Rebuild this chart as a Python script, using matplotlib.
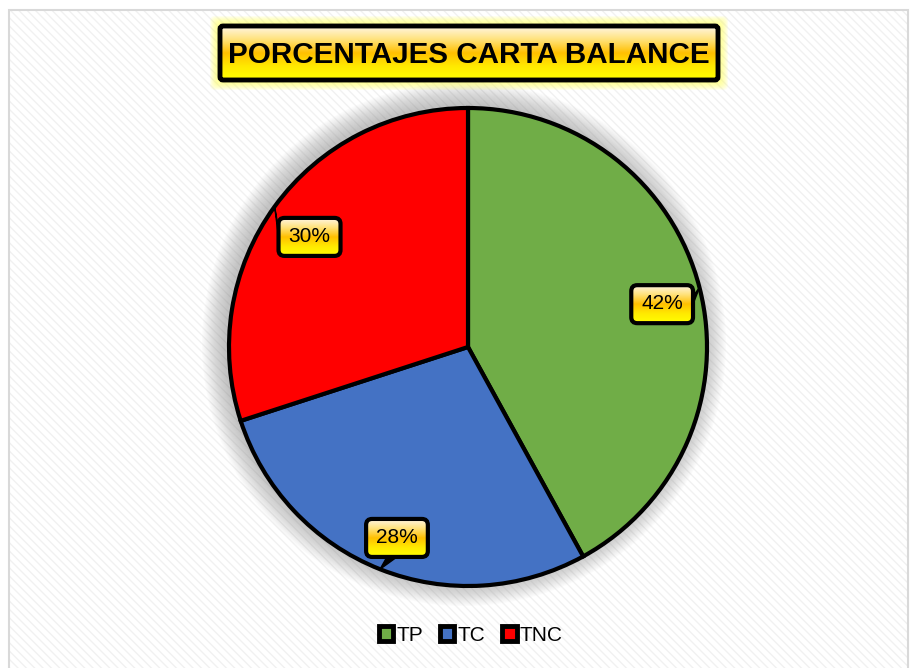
import matplotlib
matplotlib.use("Agg")
import matplotlib.pyplot as plt
import numpy as np
from matplotlib.patches import FancyBboxPatch, Rectangle, Circle, Patch, Polygon
from matplotlib.colors import LinearSegmentedColormap

# data
categories = ["TP", "TC", "TNC"]
values = [42, 28, 30]
slice_colors = ["#70AD47", "#4472C4", "#FF0000"]
title_text = "PORCENTAJES CARTA BALANCE"

W, H = 914, 668
fig = plt.figure(figsize=(W / 100, H / 100), dpi=100)
ax = fig.add_axes([0, 0, 1, 1])
ax.set_xlim(0, W)
ax.set_ylim(0, H)
ax.set_aspect("equal")
ax.axis("off")

# background: faint diagonal texture + light frame
ax.add_patch(Rectangle((9, -5), 899, 663, facecolor="white", edgecolor="#f1f1f1",
                       hatch="\\\\\\\\", linewidth=0, zorder=0))
ax.add_patch(Rectangle((9, -5), 899, 663, facecolor="none", edgecolor="#d9d9d9",
                       linewidth=1.5, zorder=0.5))

gold = LinearSegmentedColormap.from_list(
    "gold", ["#FFFF00", "#FFEA00", "#FFC000", "#FFE27A", "#FFF6E6"])


def gradient_box(x0, y0, x1, y1, pad, lw, z, rs=6):
    box = FancyBboxPatch((x0, y0), x1 - x0, y1 - y0,
                         boxstyle=f"round,pad={pad},rounding_size={rs}",
                         facecolor="none", edgecolor="black", linewidth=lw, zorder=z + 0.2)
    ax.add_patch(box)
    grad = np.linspace(0, 1, 256).reshape(-1, 1)
    im = ax.imshow(grad, cmap=gold, origin="lower", aspect="auto",
                   extent=(x0 - pad, x1 + pad, y0 - pad, y1 + pad), zorder=z)
    im.set_clip_path(box)
    return box


# pie shadow halo
cx, cy, r = 468, 321, 239
for k in range(1, 24):
    ax.add_patch(Circle((cx - 4, cy + 3), r + k, facecolor="#909090",
                        edgecolor="none", alpha=0.028, zorder=1))

wedges, texts, autotexts = ax.pie(
    values, colors=slice_colors, startangle=90, counterclock=False,
    center=(cx, cy), radius=r, autopct="%1.0f%%", pctdistance=0.83,
    wedgeprops=dict(edgecolor="black", linewidth=3, zorder=2),
    textprops=dict(fontsize=15, family="Liberation Sans", color="black", zorder=6))
ax.set_xlim(0, W)
ax.set_ylim(0, H)

# label boxes with small callout tails pointing to the pie edge
for t in autotexts:
    px, py = t.get_position()
    t.set_position((px + 2, py - 6))
fig.canvas.draw()
inv = ax.transData.inverted()
for w, t in zip(wedges, autotexts):
    bb = t.get_window_extent()
    (x0, y0), (x1, y1) = inv.transform([[bb.x0, bb.y0], [bb.x1, bb.y1]])
    x0, x1, y0, y1 = x0 - 5, x1 + 5, y0 - 5, y1 + 4
    mid = np.deg2rad((w.theta1 + w.theta2) / 2)
    ux, uy = np.cos(mid), np.sin(mid)
    tip = (cx + r * ux, cy + r * uy)
    bx, by = (x0 + x1) / 2, (y0 + y1) / 2
    # base of tail on box side facing the edge
    if abs(ux) > abs(uy):
        sx = x1 + 5 if ux > 0 else x0 - 5
        base = [(sx, by + 8), (sx, by)]
    else:
        sy = y1 + 5 if uy > 0 else y0 - 5
        base = [(bx - 10, sy), (bx, sy)]
    ax.add_patch(Polygon([base[0], tip, base[1]], closed=True, facecolor="black",
                         edgecolor="black", linewidth=1, zorder=3.9))
    gradient_box(x0, y0, x1, y1, 5, 3, 4)

# title with yellow glow
tx0, ty0, tx1, ty1 = 220, 588, 718, 642
for k in range(10, 0, -1):
    ax.add_patch(FancyBboxPatch((tx0 - k, ty0 - k), tx1 - tx0 + 2 * k, ty1 - ty0 + 2 * k,
                                boxstyle="round,pad=0,rounding_size=5",
                                facecolor="#FFFF70", edgecolor="none",
                                alpha=0.13, zorder=3))
gradient_box(tx0, ty0, tx1, ty1, 0, 3.5, 4, rs=3)
title = ax.text((tx0 + tx1) / 2, 613, title_text, ha="center", va="center", fontsize=23,
                fontweight="bold", family="Liberation Sans", color="black", zorder=6)
fig.canvas.draw()
tw = title.get_window_extent().width
title.set_fontsize(23 * 482 / tw)

# legend
handles = [Patch(facecolor=c, edgecolor="black", linewidth=3.5) for c in slice_colors]
leg = ax.legend(handles, categories, loc="center", bbox_to_anchor=(0.515, 0.049),
                ncol=3, frameon=False, handlelength=0.7, handleheight=0.7,
                handletextpad=0.15, columnspacing=0.8,
                prop=dict(family="Liberation Sans", size=15))

fig.savefig("out.png", dpi=100)
